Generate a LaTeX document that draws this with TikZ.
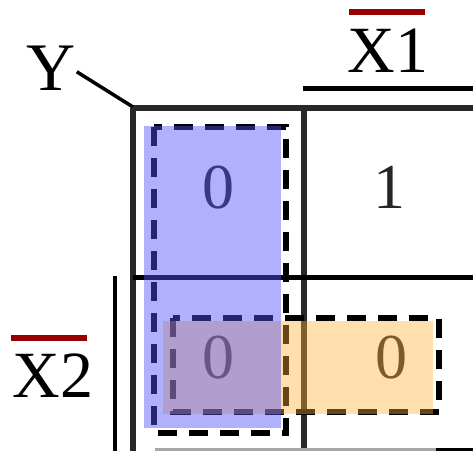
\documentclass[tikz,border=0pt]{standalone}
\usepackage{fontspec}
\setmainfont{Liberation Serif}
\definecolor{gridgray}{RGB}{40,40,40}
\definecolor{barred}{RGB}{150,0,0}
\definecolor{kblue}{RGB}{80,80,250}
\definecolor{korange}{RGB}{255,175,50}
\tikzset{
  gridline/.style={draw=gridgray, line width=5.5pt},
  dashbox/.style={draw=black, line width=5.5pt, dash pattern=on 19pt off 12pt},
  lbl/.style={font=\fontsize{66}{66}\selectfont, inner sep=0pt, anchor=base},
  dig/.style={font=\fontsize{64}{64}\selectfont, inner sep=0pt, anchor=base, text=black!85},
  negbar/.style={draw=barred, line width=5.5pt},
}
\begin{document}
\begin{tikzpicture}[x=1pt,y=-1pt]
\useasboundingbox (0,0) rectangle (473,451);
% grid
\draw[gridline] (133,108) -- (473,108);
\draw[gridline] (133,108) -- (133,451);
\draw[gridline] (304,108) -- (304,451);
\draw[gridline, draw=black] (133,277.5) -- (473,277.5);
\draw[draw=black!35, line width=3pt] (155,449) -- (436,449);
\draw[draw=black, line width=3pt] (436,449.5) -- (473,449.5);
% variable bars
\draw[draw=black, line width=5pt] (303,88) -- (473,88);
\draw[draw=black, line width=4.5pt] (115,276) -- (115,451);
\draw[negbar] (349,12) -- (425,12);
\draw[negbar] (11,338) -- (87,338);
% labels
\node[lbl, font=\fontsize{68}{68}\selectfont] (Y) at (51,90) {Y};
\node[lbl] (X1) at (388,72) {X1};
\node[lbl] (X2) at (53,397) {X2};
\coordinate (corner) at (133,107);
\draw[line width=3.5pt] ([shift={(1,4)}]Y.east) -- (corner);
% cell values
\node[dig] (c00) at (218,208) {0};
\node[dig] (c01) at (389,208) {1};
\node[dig] (c10) at (218,378) {0};
\node[dig] (c11) at (391,378) {0};
% groups
\draw[dashbox] (154,127) rectangle (286,433);
\draw[dashbox] (173,318) rectangle (439,412);
\fill[korange, opacity=0.4] (163,321) rectangle (433,414);
\fill[kblue, opacity=0.45] (144,126) rectangle (281,428);
\end{tikzpicture}
\end{document}
